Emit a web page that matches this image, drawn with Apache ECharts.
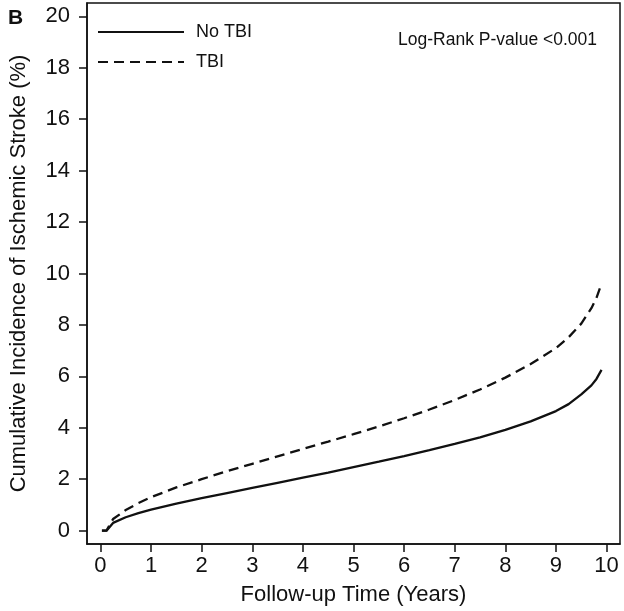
<!DOCTYPE html>
<html>
<head>
<meta charset="utf-8">
<script src="https://cdn.jsdelivr.net/npm/echarts@6/dist/echarts.min.js"></script>
<style>html,body{margin:0;padding:0;background:#fff}#c{width:624px;height:611px}</style>
</head>
<body>
<div id="c"></div>
<script>
var years = [0.03, 0.12, 0.25, 0.5, 0.75, 1, 1.5, 2, 2.5, 3, 3.5, 4, 4.5, 5, 5.5, 6, 6.5, 7, 7.5, 8, 8.5, 9, 9.25, 9.5, 9.7, 9.8, 9.9];
var noTBI = [0, 0, 0.3, 0.52, 0.68, 0.82, 1.05, 1.26, 1.46, 1.66, 1.86, 2.06, 2.26, 2.47, 2.68, 2.9, 3.13, 3.37, 3.63, 3.92, 4.25, 4.65, 4.92, 5.3, 5.65, 5.9, 6.25];
var TBI = [0, 0, 0.45, 0.8, 1.07, 1.3, 1.68, 2.0, 2.31, 2.6, 2.89, 3.18, 3.46, 3.75, 4.05, 4.37, 4.71, 5.08, 5.49, 5.95, 6.48, 7.1, 7.52, 8.05, 8.65, 9.05, 9.6];
var xTicks = [0, 1, 2, 3, 4, 5, 6, 7, 8, 9, 10];
var yTicks = [0, 2, 4, 6, 8, 10, 12, 14, 16, 18, 20];
var seriesNames = ['No TBI', 'TBI'];
var panelLabel = 'B';
var pText = 'Log-Rank P-value <0.001';

function pairs(v) {
  var out = [];
  for (var i = 0; i < years.length; i++) out.push([years[i], v[i]]);
  return out;
}
var font = 'Liberation Sans, Arial, Helvetica, sans-serif';
var ink = '#111';
var chart = echarts.init(document.getElementById('c'), null, {renderer: 'canvas'});
chart.setOption({
  animation: false,
  backgroundColor: '#fff',
  textStyle: {fontFamily: font, color: ink},
  grid: {left: 81, right: 4, top: 3, bottom: 64, show: true, borderColor: ink, borderWidth: 1.5, containLabel: false},
  legend: {
    orient: 'vertical', left: 97, top: 23, padding: 0, itemWidth: 86, itemHeight: 20, itemGap: 12,
    itemStyle: {color: 'rgba(0,0,0,0)', borderColor: 'rgba(0,0,0,0)', borderWidth: 0},
    textStyle: {fontFamily: font, fontSize: 18, color: ink, padding: [0, 0, 0, 7]},
    data: seriesNames
  },
  xAxis: {
    type: 'value', min: -0.265, max: 10.265,
    name: 'Follow-up Time (Years)', nameLocation: 'middle', nameGap: 40,
    nameTextStyle: {fontFamily: font, fontSize: 22, color: ink},
    axisLine: {show: true, onZero: false, lineStyle: {color: ink, width: 1.5}},
    axisTick: {show: true, inside: false, length: 8, lineStyle: {color: ink, width: 1.5}, customValues: xTicks},
    axisLabel: {fontFamily: font, fontSize: 22, color: ink, margin: 11, customValues: xTicks},
    splitLine: {show: false}
  },
  yAxis: {
    type: 'value', min: -0.52, max: 20.52,
    name: 'Cumulative Incidence of Ischemic Stroke (%)', nameLocation: 'middle', nameGap: 57,
    nameTextStyle: {fontFamily: font, fontSize: 22, color: ink},
    axisLine: {show: true, onZero: false, lineStyle: {color: ink, width: 1.5}},
    axisTick: {show: true, inside: false, length: 8, lineStyle: {color: ink, width: 1.5}, customValues: yTicks},
    axisLabel: {fontFamily: font, fontSize: 22, color: ink, margin: 17, customValues: yTicks},
    splitLine: {show: false}
  },
  graphic: [
    {type: 'text', left: 8, top: 8, style: {text: panelLabel, font: 'bold 21px ' + font, fill: ink}},
    {type: 'text', right: 27, top: 31, style: {text: pText, font: '17.5px ' + font, fill: ink}}
  ],
  series: [
    {name: seriesNames[0], type: 'line', data: pairs(noTBI), showSymbol: false, symbol: 'none', smooth: false,
     lineStyle: {color: ink, width: 2.3, type: 'solid'}, itemStyle: {color: ink}},
    {name: seriesNames[1], type: 'line', data: pairs(TBI), showSymbol: false, symbol: 'none', smooth: false,
     lineStyle: {color: ink, width: 2.3, type: [10, 6]}, itemStyle: {color: ink}}
  ]
});
</script>
</body>
</html>
